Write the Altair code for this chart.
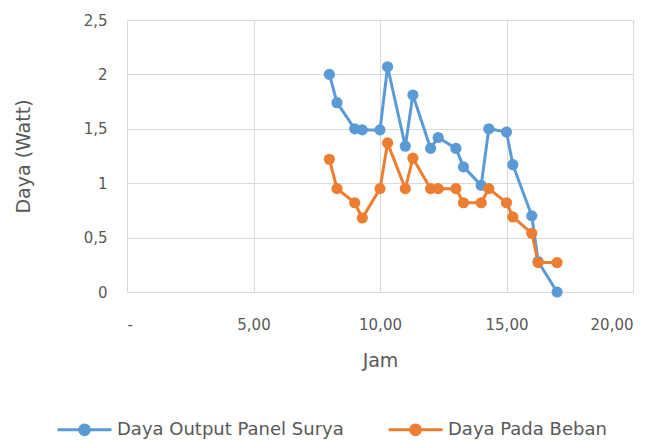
import altair as alt
import pandas as pd

jam = [8.0, 8.3, 9.0, 9.3, 10.0, 10.3, 11.0, 11.3, 12.0, 12.3, 13.0, 13.3, 14.0, 14.3, 15.0, 15.25, 16.0, 16.25, 17.0]
panel = [2.0, 1.74, 1.5, 1.49, 1.49, 2.07, 1.34, 1.81, 1.32, 1.42, 1.32, 1.15, 0.98, 1.5, 1.47, 1.17, 0.70, 0.28, 0.0]
beban = [1.22, 0.95, 0.82, 0.68, 0.95, 1.37, 0.95, 1.23, 0.95, 0.95, 0.95, 0.82, 0.82, 0.95, 0.82, 0.69, 0.54, 0.27, 0.27]
series = ["Daya Output Panel Surya", "Daya Pada Beban"]
colors = ["#5b9bd5", "#ed7d31"]

rows = []
for i, t in enumerate(jam):
    rows.append({"Jam": t, "Daya": panel[i], "Seri": series[0], "o": 0})
for i, t in enumerate(jam):
    rows.append({"Jam": t, "Daya": beban[i], "Seri": series[1], "o": 1})
df = pd.DataFrame(rows)

FONT = "DejaVu Sans"
TXT = "#595959"

sym = "M-1,0H1M-0.18,0A0.18,0.18 0 1,0 0.18,0A0.18,0.18 0 1,0 -0.18,0Z"

chart = alt.Chart(df).mark_line(
    strokeWidth=3,
    point=alt.OverlayMarkDef(filled=True, size=125),
).encode(
    x=alt.X("Jam:Q", scale=alt.Scale(domain=[0, 20], nice=False),
            axis=alt.Axis(values=[0, 5, 10, 15, 20], title="Jam",
                          labelExpr="datum.value == 0 ? '-' : replace(format(datum.value, '.2f'), '.', ',')",
                          ticks=False, domain=False, labelPadding=25, titlePadding=19)),
    y=alt.Y("Daya:Q", scale=alt.Scale(domain=[0, 2.5], nice=False),
            axis=alt.Axis(values=[0, 0.5, 1, 1.5, 2, 2.5], title="Daya (Watt)",
                          labelExpr="replace(format(datum.value, ''), '.', ',')",
                          ticks=False, domain=False, labelPadding=20, titlePadding=50)),
    color=alt.Color("Seri:N", scale=alt.Scale(domain=series, range=colors),
                    legend=alt.Legend(title=None, orient="none", direction="horizontal",
                                      legendX=-71, legendY=381, labelLimit=0,
                                      symbolType=sym, symbolSize=2916, symbolStrokeWidth=3,
                                      columnPadding=38, labelOffset=4)),
    order="o:Q",
    detail="Seri:N",
).properties(
    width=506, height=272,
    autosize=alt.AutoSizeParams(type="none"),
    padding={"left": 127, "top": 20, "right": 30, "bottom": 149},
).configure_view(stroke=None).configure_axis(
    gridColor="#d9d9d9", gridWidth=1, labelFont=FONT, titleFont=FONT,
    labelFontSize=15, titleFontSize=19, labelColor=TXT, titleColor=TXT,
    titleFontWeight="normal",
).configure_legend(labelFont=FONT, labelFontSize=18, labelColor=TXT)

chart.save("out.html", embed_options={"renderer": "svg", "actions": False})
